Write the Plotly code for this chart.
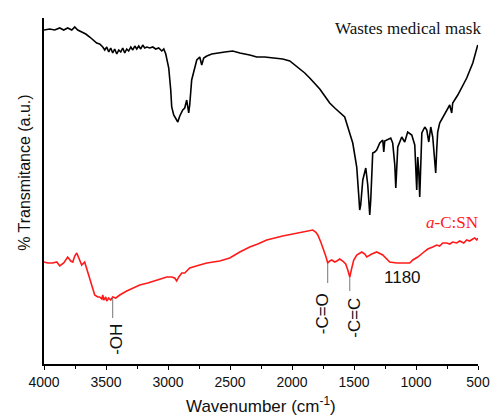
import plotly.graph_objects as go

# Black spectrum: Wastes medical mask (wavenumber cm-1, transmittance a.u.)
mask_wn = [4000, 3954, 3914, 3873, 3841, 3809, 3776, 3752, 3728, 3696, 3663, 3631, 3599, 3575, 3551, 3526,
           3510, 3494, 3478, 3462, 3446, 3430, 3413, 3397, 3381, 3365, 3349, 3333, 3317, 3300, 3284, 3268,
           3252, 3236, 3220, 3204, 3188, 3171, 3147, 3123, 3099, 3075, 3050, 3034, 3018,
           3010, 2994, 2978, 2970, 2954, 2938, 2921, 2905, 2889, 2881, 2865, 2849, 2833, 2825, 2809, 2784,
           2768, 2744, 2728, 2712, 2687, 2647, 2607, 2542, 2478, 2421, 2341, 2284, 2220, 2155, 2075, 2018,
           1954, 1897, 1857, 1817, 1776, 1736, 1696, 1655, 1615, 1575, 1550, 1526, 1510, 1494, 1478, 1462,
           1454, 1446, 1429, 1405, 1389, 1373, 1365, 1349, 1333, 1317, 1292, 1268, 1260, 1252, 1236, 1204,
           1188, 1171, 1163, 1155, 1147, 1115, 1091, 1067, 1034, 1010, 1002, 994, 986, 978, 970, 961, 953,
           929, 913, 897, 881, 865, 849, 841, 833, 825, 809, 784, 752, 728, 712, 704, 663, 631, 591, 542,
           518, 502]
mask_t = [334, 335, 334, 336, 334, 336, 334, 337, 334, 332, 330, 327, 324, 321, 320, 317,
          314, 317, 312, 316, 311, 315, 310, 314, 312, 316, 311, 315, 313, 317, 314, 318,
          315, 318, 315, 319, 316, 317, 316, 317, 315, 316, 313, 315, 310,
          306, 296, 274, 257, 249, 246, 242, 248, 252, 254, 256, 264, 251, 259, 284, 298,
          304, 307, 299, 306, 308, 310, 311, 312, 313, 311, 309, 307, 307, 306, 305, 303,
          297, 291, 286, 281, 275, 268, 261, 256, 251, 247, 237, 227, 221, 209, 197, 169,
          154, 159, 184, 196, 179, 149, 164, 211, 212, 214, 221, 224, 212, 223, 224, 226,
          221, 199, 176, 199, 217, 227, 222, 232, 229, 219, 199, 174, 207, 194, 167, 199, 231,
          237, 234, 222, 237, 227, 204, 191, 214, 232, 241, 247, 254, 259, 251, 261, 269, 276, 286, 301,
          311, 319]

# Red spectrum: a-C:SN
acsn_wn = [4000, 3970, 3930, 3897, 3873, 3841, 3809, 3784, 3768, 3752, 3736, 3712, 3696, 3672, 3647, 3631,
           3607, 3591, 3567, 3551, 3534, 3526, 3518, 3502, 3494, 3478, 3462, 3446, 3421, 3389, 3333, 3284,
           3228, 3163, 3091, 3042, 3010, 2970, 2946, 2930, 2913, 2889, 2865, 2849, 2825, 2744, 2687, 2583,
           2502, 2421, 2341, 2276, 2204, 2075, 1938, 1873, 1833, 1809, 1792, 1768, 1752, 1728, 1712, 1696,
           1679, 1655, 1639, 1615, 1591, 1567, 1550, 1534, 1518, 1502, 1478, 1437, 1413, 1397, 1357, 1317,
           1268, 1236, 1212, 1155, 1107, 1050, 1026, 986, 946, 905, 865, 833, 809, 784, 752, 728, 704, 672,
           647, 615, 591, 567, 542, 526, 510, 502]
acsn_t = [102, 101, 101, 102, 98, 101, 107, 103, 102, 108, 111, 104, 99, 102, 91, 84,
          76, 69, 67, 67, 65, 69, 64, 67, 63, 66, 64, 67, 66, 69, 73, 76,
          79, 81, 84, 86, 87, 87, 86, 83, 87, 91, 91, 93, 96, 99, 101, 103,
          106, 112, 117, 120, 124, 128, 131, 133, 134, 132, 129, 122, 117, 108, 101, 103,
          104, 102, 103, 105, 103, 100, 94, 87, 96, 104, 109, 112, 110, 107, 110, 112,
          109, 105, 102, 101, 101, 101, 104, 107, 111, 115, 117, 119, 118, 121, 121, 120, 122, 121,
          123, 121, 124, 123, 125, 126, 124, 126]

# Peak labels
peak_labels = ["-OH", "-C=O", "-C=C"]
peak_wn = [3446, 1712, 1534]
peak_top = [66, 101, 87]
peak_bottom = [46, 81, 73]
label_wn = [3421, 1756, 1502]
label_t = [25, 50, 46]

tick_vals = [4000, 3500, 3000, 2500, 2000, 1500, 1000, 500]
tick_text = [str(v) for v in tick_vals]

fig = go.Figure()
fig.add_trace(go.Scatter(x=mask_wn, y=mask_t, mode="lines",
                         line=dict(color="black", width=1.6), showlegend=False))
fig.add_trace(go.Scatter(x=acsn_wn, y=acsn_t, mode="lines",
                         line=dict(color="#ff1a1a", width=1.6), showlegend=False))

for wn, y0, y1 in zip(peak_wn, peak_top, peak_bottom):
    fig.add_shape(type="line", xref="x", yref="y", x0=wn, x1=wn, y0=y0, y1=y1,
                  line=dict(color="#777777", width=1))

for lab, x, y in zip(peak_labels, label_wn, label_t):
    fig.add_annotation(x=x, y=y, xref="x", yref="y", text=lab, showarrow=False,
                       textangle=-90, font=dict(family="Liberation Sans, Arial", size=17, color="#111111"))

fig.add_annotation(x=1107, y=87, xref="x", yref="y", text="1180", showarrow=False,
                   font=dict(family="Liberation Sans, Arial", size=17, color="#111111"))

fig.add_annotation(x=1.0115, y=336, xref="paper", yref="y", text="Wastes medical mask",
                   showarrow=False, xanchor="right", yanchor="middle",
                   font=dict(family="Liberation Serif, Times New Roman", size=17, color="#111111"))
fig.add_annotation(x=1.0046, y=142, xref="paper", yref="y", text="<i>a</i>-C:SN",
                   showarrow=False, xanchor="right", yanchor="middle",
                   font=dict(family="Liberation Serif, Times New Roman", size=17, color="#ff1a1a"))

fig.add_annotation(x=-0.044, y=0.555, xref="paper", yref="paper", text="% Transmitance (a.u.)",
                   showarrow=False, textangle=-90, xanchor="center", yanchor="middle",
                   font=dict(family="Liberation Sans, Arial", size=16, color="#111111"))
fig.add_annotation(x=0.5, y=-0.118, xref="paper", yref="paper", text="Wavenumber (cm<sup>-1</sup>)",
                   showarrow=False, xanchor="center", yanchor="middle",
                   font=dict(family="Liberation Sans, Arial", size=17, color="#111111"))

fig.update_layout(
    width=491, height=419,
    margin=dict(l=44, r=13, t=18, b=55, autoexpand=False),
    paper_bgcolor="white", plot_bgcolor="white",
    xaxis=dict(range=[4000, 500], tickvals=tick_vals, ticktext=tick_text, automargin=False,
               showgrid=False, zeroline=False, showline=True, linecolor="black", linewidth=1.5,
               ticks="outside", ticklen=4, tickwidth=1, tickcolor="black",
               tickfont=dict(family="Liberation Sans, Arial", size=14, color="#111111"),
               minor=dict(ticks="outside", ticklen=3, dtick=250, tick0=500, tickcolor="black", showgrid=False)),
    yaxis=dict(range=[0, 346], showgrid=False, zeroline=False, showline=True, linecolor="black",
               linewidth=1.5, showticklabels=False, ticks="", automargin=False),
)

fig.write_html("out.html")
